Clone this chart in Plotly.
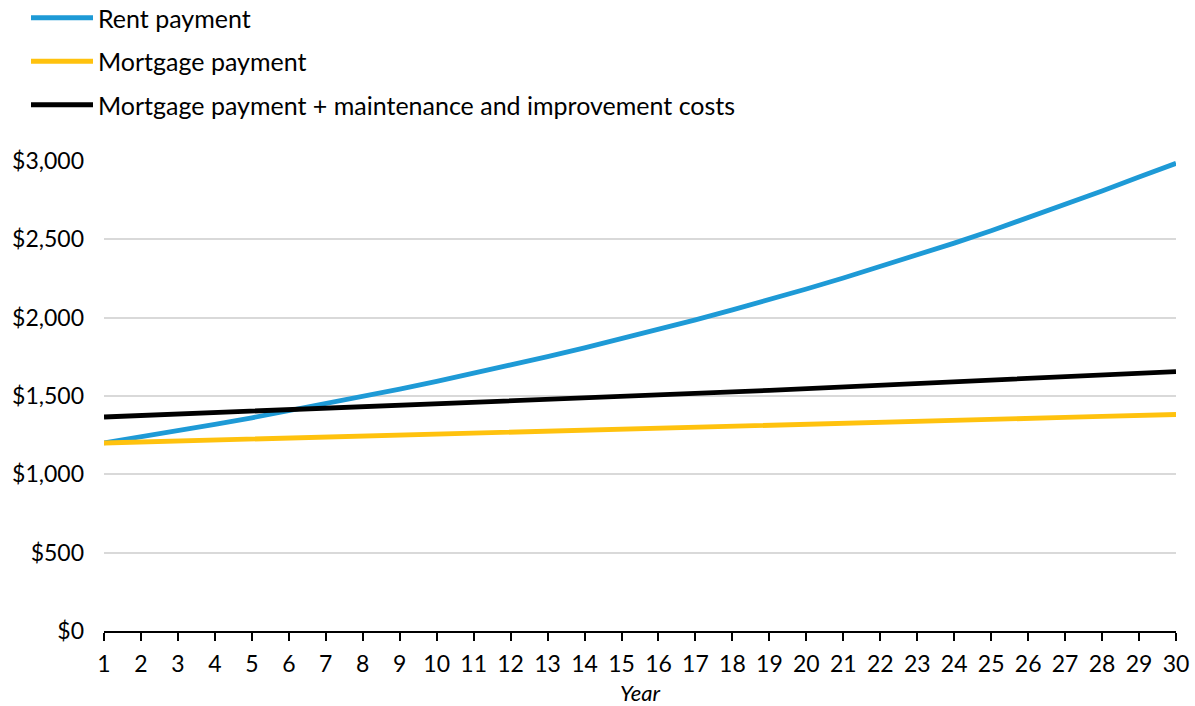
import plotly.graph_objects as go

years = list(range(1, 31))
rent = [1200, 1238, 1278, 1319, 1361, 1405, 1450, 1496, 1544, 1593,
        1644, 1697, 1751, 1807, 1865, 1925, 1986, 2050, 2115, 2183,
        2253, 2325, 2399, 2476, 2555, 2637, 2721, 2808, 2898, 2985]
mortgage = [1200, 1206, 1212, 1218, 1224, 1230, 1236, 1242, 1248, 1254,
            1260, 1266, 1272, 1278, 1285, 1291, 1297, 1304, 1310, 1317,
            1323, 1330, 1336, 1343, 1350, 1357, 1363, 1370, 1377, 1382]
mortgage_plus = [1366, 1375, 1384, 1393, 1402, 1411, 1420, 1429, 1438, 1447,
                 1457, 1466, 1476, 1486, 1496, 1506, 1516, 1526, 1536, 1547,
                 1557, 1568, 1579, 1590, 1601, 1612, 1623, 1634, 1645, 1656]
names = ["Rent payment", "Mortgage payment",
         "Mortgage payment + maintenance and improvement costs"]
colors = ["#1E9AD6", "#FFC20E", "#000000"]
y_ticks = [0, 500, 1000, 1500, 2000, 2500, 3000]
y_labels = ["$0", "$500", "$1,000", "$1,500", "$2,000", "$2,500", "$3,000"]
x_title = "Year"

fig = go.Figure()
for i, (name, vals, col) in enumerate(zip(names, [rent, mortgage, mortgage_plus], colors)):
    fig.add_trace(go.Scatter(
        x=years, y=vals, name=name, mode="lines",
        line=dict(color=col, width=4.8), legendgroup=str(i),
        cliponaxis=False,
    ))

W, H = 1195, 706
L, R, T, B = 104, 19, 161, 75
pw = W - L - R
ph = H - T - B

fig.update_layout(
    width=W, height=H,
    margin=dict(l=L, r=R, t=T, b=B, autoexpand=False),
    plot_bgcolor="white", paper_bgcolor="white",
    font=dict(family="Lato", size=23, color="#000000"),
    showlegend=True,
    legend=dict(
        x=(26 - L) / pw, y=(H - B + 5) / ph, xanchor="left", yanchor="top",
        font=dict(size=25, family="Lato", color="#000000"),
        tracegroupgap=8, itemwidth=62, bgcolor="rgba(0,0,0,0)",
    ),
    xaxis=dict(
        range=[1, 30], tickmode="array", tickvals=years,
        ticktext=[str(y) for y in years],
        showgrid=False, zeroline=False,
        showline=True, linecolor="#000000", linewidth=2,
        ticks="outside", ticklen=8, tickwidth=2, tickcolor="#000000",
        tickfont=dict(size=23, family="Lato"),
        ticklabelstandoff=3,
    ),
    yaxis=dict(
        range=[0, 3000], tickmode="array", tickvals=y_ticks, ticktext=y_labels,
        showgrid=True, gridcolor="#D9D9D9", gridwidth=2,
        zeroline=False, showline=False, ticks="",
        tickfont=dict(size=23, family="Lato"),
        ticklabelstandoff=19,
    ),
    annotations=[dict(
        text="<i>" + x_title + "</i>", xref="paper", yref="paper",
        x=0.5, y=0, yshift=-61, xanchor="center", yanchor="middle",
        showarrow=False, borderpad=0,
        font=dict(size=22, family="Lato", color="#000000"),
    )],
)

fig.write_html(
    "out.html",
    config={"displayModeBar": False},
    post_script="document.body.style.margin='0';document.body.style.padding='0';",
)
